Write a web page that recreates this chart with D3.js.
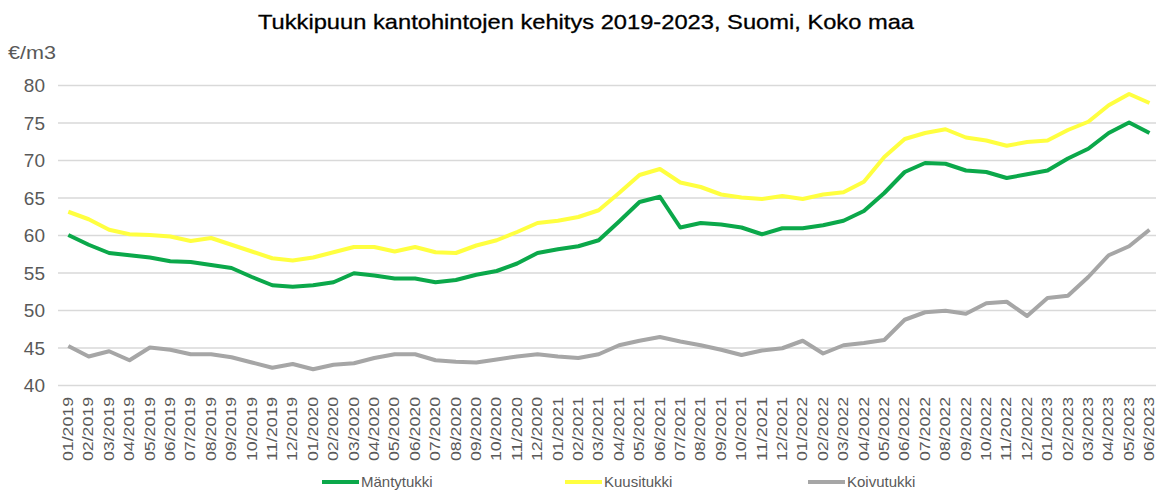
<!DOCTYPE html>
<meta charset="utf-8">
<html>
<head>
    <style>
        body { margin: 0; background: #fff; }
        text { font-family: "Liberation Sans", Arial, sans-serif; }
    </style>
</head>
<body>
    <svg width="1156" height="490" id="chart-area"></svg>

    <script src="https://d3js.org/d3.v7.min.js"></script>
    <script>
        /* data */
        var months = [
            "01/2019", "02/2019", "03/2019", "04/2019", "05/2019", "06/2019", "07/2019", "08/2019", "09/2019", "10/2019", "11/2019", "12/2019",
            "01/2020", "02/2020", "03/2020", "04/2020", "05/2020", "06/2020", "07/2020", "08/2020", "09/2020", "10/2020", "11/2020", "12/2020",
            "01/2021", "02/2021", "03/2021", "04/2021", "05/2021", "06/2021", "07/2021", "08/2021", "09/2021", "10/2021", "11/2021", "12/2021",
            "01/2022", "02/2022", "03/2022", "04/2022", "05/2022", "06/2022", "07/2022", "08/2022", "09/2022", "10/2022", "11/2022", "12/2022",
            "01/2023", "02/2023", "03/2023", "04/2023", "05/2023", "06/2023"
        ];
        var mantytukki = [
            60.0, 58.7, 57.6, 57.3, 57.0, 56.5, 56.4, 56.0, 55.6, 54.4, 53.3, 53.1,
            53.3, 53.7, 54.9, 54.6, 54.2, 54.2, 53.7, 54.0, 54.7, 55.2, 56.2, 57.6,
            58.1, 58.5, 59.3, 61.8, 64.4, 65.1, 61.0, 61.6, 61.4, 61.0, 60.1, 60.9,
            60.9, 61.3, 61.9, 63.2, 65.6, 68.4, 69.6, 69.5, 68.6, 68.4, 67.6, 68.1,
            68.6, 70.2, 71.5, 73.6, 75.0, 73.6
        ];
        var kuusitukki = [
            63.1, 62.1, 60.7, 60.1, 60.0, 59.8, 59.2, 59.6, 58.7, 57.8, 56.9, 56.6,
            57.0, 57.7, 58.4, 58.4, 57.8, 58.4, 57.7, 57.6, 58.6, 59.3, 60.4, 61.6,
            61.9, 62.4, 63.3, 65.6, 68.0, 68.8, 67.0, 66.4, 65.4, 65.0, 64.8, 65.2,
            64.8, 65.4, 65.7, 67.1, 70.4, 72.8, 73.6, 74.1, 73.0, 72.6, 71.9, 72.4,
            72.6, 74.0, 75.1, 77.3, 78.8, 77.6
        ];
        var koivutukki = [
            45.2, 43.8, 44.5, 43.3, 45.0, 44.7, 44.1, 44.1, 43.7, 43.0, 42.3, 42.8,
            42.1, 42.7, 42.9, 43.6, 44.1, 44.1, 43.3, 43.1, 43.0, 43.4, 43.8, 44.1,
            43.8, 43.6, 44.1, 45.3, 45.9, 46.4, 45.8, 45.3, 44.7, 44.0, 44.6, 44.9,
            45.9, 44.2, 45.3, 45.6, 46.0, 48.7, 49.7, 49.9, 49.5, 50.9, 51.1, 49.2,
            51.6, 51.9, 54.4, 57.3, 58.5, 60.7
        ];
        var yTicks = [40, 45, 50, 55, 60, 65, 70, 75, 80];
        var seriesNames = ["Mäntytukki", "Kuusitukki", "Koivutukki"];
        var seriesColors = ["#0ba84a", "#ffff40", "#a6a6a6"];

        var series = [mantytukki, kuusitukki, koivutukki];

        var svg = d3.select("svg"),
            plotLeft = 58, plotRight = 1156,
            plotTop = 85, plotBottom = 385;

        var x = d3.scalePoint().domain(months).range([68.3, 1149.5]),
            y = d3.scaleLinear().domain([40, 80]).range([plotBottom, plotTop]);

        /* title */
        svg.append("text")
            .attr("x", 586)
            .attr("y", 29)
            .attr("text-anchor", "middle")
            .attr("font-size", 21)
            .attr("fill", "#000")
            .attr("stroke", "#000")
            .attr("stroke-width", 0.3)
            .attr("textLength", 656)
            .attr("lengthAdjust", "spacingAndGlyphs")
            .text("Tukkipuun kantohintojen kehitys 2019-2023, Suomi, Koko maa");

        /* unit label */
        svg.append("text")
            .attr("x", 8)
            .attr("y", 59)
            .attr("font-size", 19)
            .attr("fill", "#595959")
            .attr("textLength", 48)
            .attr("lengthAdjust", "spacingAndGlyphs")
            .text("€/m3");

        /* grid lines + y labels */
        var yAxis = svg.append("g")
            .attr("class", "axis axis--y")
            .call(d3.axisLeft(y).tickValues(yTicks).tickSize(0).tickPadding(0));
        yAxis.select(".domain").remove();
        yAxis.selectAll(".tick text")
            .attr("x", 45)
            .attr("dy", "0.35em")
            .attr("text-anchor", "end")
            .attr("font-size", 19)
            .attr("font-family", "Liberation Sans, Arial, sans-serif")
            .attr("fill", "#595959");
        yAxis.selectAll(".tick").append("line")
            .attr("x1", plotLeft)
            .attr("x2", plotRight)
            .attr("stroke", "#d9d9d9")
            .attr("stroke-width", 1.5);

        /* x labels */
        var xAxis = svg.append("g")
            .attr("class", "axis axis--x")
            .attr("transform", "translate(0," + plotBottom + ")")
            .call(d3.axisBottom(x).tickSize(0));
        xAxis.select(".domain").remove();
        xAxis.selectAll(".tick text")
            .attr("transform", "translate(0,12) rotate(-90)")
            .attr("x", 0)
            .attr("y", 0)
            .attr("dy", "0.3em")
            .attr("text-anchor", "end")
            .attr("font-size", 14)
            .attr("font-family", "Liberation Sans, Arial, sans-serif")
            .attr("fill", "#595959")
            .attr("textLength", 64)
            .attr("lengthAdjust", "spacingAndGlyphs");

        /* lines */
        var line = d3.line()
            .x(function (d, i) { return x(months[i]); })
            .y(function (d) { return y(d); });

        svg.selectAll(".series")
            .data(series)
            .enter().append("path")
            .attr("class", "series")
            .attr("d", line)
            .attr("fill", "none")
            .attr("stroke", function (d, i) { return seriesColors[i]; })
            .attr("stroke-width", 4)
            .attr("stroke-linejoin", "round");

        /* legend */
        var legend = svg.selectAll(".legend")
            .data(seriesNames)
            .enter().append("g")
            .attr("class", "legend")
            .attr("transform", function (d, i) { return "translate(" + (322 + i * 243) + ",482)"; });
        legend.append("line")
            .attr("x1", 0)
            .attr("x2", 37)
            .attr("stroke", function (d, i) { return seriesColors[i]; })
            .attr("stroke-width", 4);
        legend.append("text")
            .attr("x", 39)
            .attr("y", 5)
            .attr("font-size", 15)
            .attr("fill", "#595959")
            .text(function (d) { return d; });
    </script>
</body>
</html>
